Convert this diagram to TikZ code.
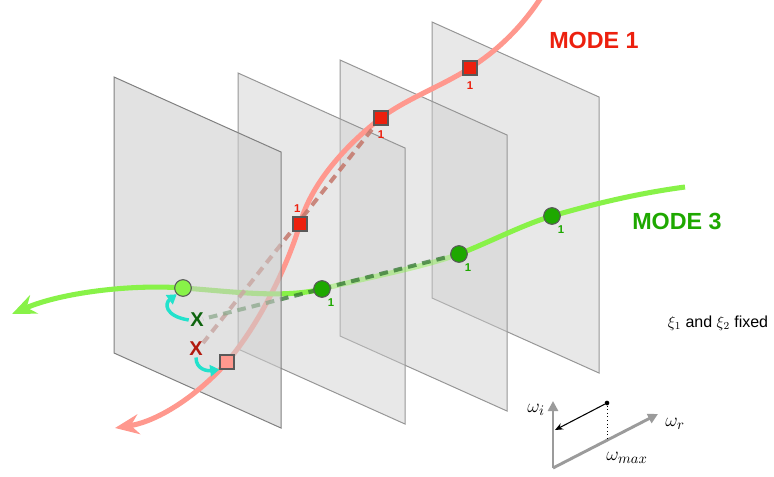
\documentclass[tikz,border=0pt]{standalone}
\usepackage{fontspec}
\setmainfont{Liberation Sans}
\usepackage{amsmath}
\usetikzlibrary{arrows.meta, positioning}

\definecolor{planefill}{RGB}{205,205,205}
\definecolor{planeline}{RGB}{150,150,150}
\definecolor{modered}{RGB}{236,32,14}
\definecolor{salmon}{RGB}{255,152,142}
\definecolor{modegreen}{RGB}{30,168,0}
\definecolor{brightgreen}{RGB}{136,242,72}
\definecolor{xgreen}{RGB}{14,100,14}
\definecolor{xred}{RGB}{178,26,14}
\definecolor{dashred}{RGB}{196,118,106}
\definecolor{dashgreen}{RGB}{40,110,40}
\definecolor{turquoise}{RGB}{34,226,204}
\definecolor{axisgray}{RGB}{155,155,155}

\tikzstyle{plane} = [draw=planeline, line width=0.75pt, fill=planefill, fill opacity=0.45]
\tikzstyle{frontplane} = [plane, draw=gray, fill opacity=0.58]
\tikzstyle{redcurve} = [line width=3.8pt, draw=salmon]
\tikzstyle{greencurve} = [line width=3.8pt, draw=brightgreen]
\tikzstyle{bigarrow} = [-{Stealth[length=18pt, width=15pt, inset=6pt]}]
\tikzstyle{guess} = [line width=3pt, dash pattern=on 6.5pt off 4.5pt]
\tikzstyle{redsq} = [rectangle, minimum size=10.5pt, inner sep=0pt, fill=modered, draw=gray!70!black, line width=0.8pt]
\tikzstyle{greendot} = [circle, minimum size=12.5pt, inner sep=0pt, fill=modegreen, draw=gray!70!black, line width=0.8pt]
\tikzstyle{onelbl} = [font=\fontsize{8.5}{9}\selectfont\bfseries, inner sep=0.5pt]
\tikzstyle{modelbl} = [font=\fontsize{17.5}{20}\selectfont\bfseries]
\tikzstyle{xlbl} = [font=\fontsize{15}{17}\selectfont\bfseries, inner sep=1pt]
\tikzstyle{hint} = [draw=turquoise, line width=2.6pt, -{Triangle[length=7pt, width=8.5pt]}]
\tikzstyle{axis} = [draw=axisgray, line width=2.2pt, -{Triangle[length=7.5pt, width=7.5pt]}]
\tikzstyle{omega} = [font=\fontsize{15}{17}\selectfont, inner sep=0pt]

\begin{document}
\begin{tikzpicture}[x=0.75pt, y=-0.75pt]
\useasboundingbox (0,0) rectangle (774,476);

% Points where the modes cross the planes
\coordinate (r1) at (227,362);
\coordinate (r2) at (300,224);
\coordinate (r3) at (381,118);
\coordinate (r4) at (470,68);
\coordinate (rtop) at (542,-4);
\coordinate (rtip) at (115,428);
\coordinate (g1) at (183,288);
\coordinate (g2) at (322,289);
\coordinate (g3) at (459,254);
\coordinate (g4) at (552,216);
\coordinate (gend) at (685,187);
\coordinate (gtip) at (12,314);
\coordinate (xrend) at (203,343);
\coordinate (xgend) at (203,319);

% Planes, back to front
\draw [plane] (432,22) -- (599,97) -- (599,373) -- (432,298) -- cycle;
\draw [plane] (340,60) -- (507,135) -- (507,411) -- (340,336) -- cycle;
\draw [plane] (238,73) -- (405,148) -- (405,424) -- (238,349) -- cycle;

% Mode 1
\draw [redcurve] (rtop) .. controls (520,30) and (495,52) .. (r4);
\draw [redcurve] (r4) .. controls (440,87) and (406,99) .. (r3);
\draw [redcurve] (r3) .. controls (351,141) and (312,180) .. (r2);
\draw [redcurve] (r2) .. controls (288,264) and (261,322) .. (r1);

% Mode 3
\draw [greencurve] (g4) .. controls (597,203) and (640,193) .. (gend);
\draw [greencurve] (g3) .. controls (490,242) and (522,225) .. (g4);
\draw [greencurve, draw opacity=0.45] (g2) .. controls (370,277) and (424,267) .. (g3);
\draw [greencurve] (g1) .. controls (228,291) and (283,299) .. (g2);

% Extrapolation
\draw [guess, draw=dashred, draw opacity=0.85] (r3) -- (xrend);
\draw [guess, draw=dashgreen, draw opacity=0.7] (g3) -- (xgend);

% Front plane
\draw [frontplane] (114,77) -- (281,152) -- (281,428) -- (114,353) -- cycle;

\draw [redcurve, bigarrow] (r1) .. controls (200,393) and (160,421) .. (rtip);
\draw [greencurve, bigarrow] (g1) .. controls (130,284) and (60,293) .. (gtip);

% Markers
\node (r1box) [redsq, fill=salmon] at (r1) {};
\node (r2box) [redsq] at (r2) {};
\node (r3box) [redsq] at (r3) {};
\node (r4box) [redsq] at (r4) {};
\node (g1dot) [greendot, fill=brightgreen] at (g1) {};
\node (g2dot) [greendot] at (g2) {};
\node (g3dot) [greendot] at (g3) {};
\node (g4dot) [greendot] at (g4) {};

\node (r2num) [onelbl, text=modered, above=2pt of r2box, xshift=-2pt] {1};
\node (r3num) [onelbl, text=modered, below=3pt of r3box] {1};
\node (r4num) [onelbl, text=modered, below=4pt of r4box] {1};
\node (g2num) [onelbl, text=modegreen, below right=2pt and -1pt of g2dot] {1};
\node (g3num) [onelbl, text=modegreen, below right=2pt and -1pt of g3dot] {1};
\node (g4num) [onelbl, text=modegreen, below right=2pt and -1pt of g4dot] {1};

% Mode names
\node (mode1) [modelbl, text=modered] at (594,40) {MODE 1};
\node (mode3) [modelbl, text=modegreen] at (677,221) {MODE 3};

% Predicted points
\node (xg) [xlbl, text=xgreen] at (197,320) {X};
\node (xr) [xlbl, text=xred] at (196,349) {X};
\draw [hint] (xg.west) .. controls (164,316) and (165,303) .. (g1dot.south west);
\draw [hint] (xr.south) .. controls (196,370) and (208,371) .. (r1box.south west);

\node (fixed) [font=\fontsize{12}{14}\selectfont] at (718,323) {$\xi_1$ and $\xi_2$ fixed};

% Complex plane
\coordinate (o) at (553,468);
\coordinate (wi) at (553,401);
\coordinate (wr) at (658,414);
\coordinate (foot) at (607,440);
\coordinate (wtip) at (555,430);
\node (top) [circle, fill=black, inner sep=0pt, minimum size=3.5pt] at (607,403) {};
\draw [axis] (o) -- (wi);
\draw [axis] (o) -- (wr);
\draw [dotted, line width=0.7pt] (top) -- (foot);
\draw [-{Stealth[length=6pt, width=5pt]}, line width=0.8pt] (top) -- (wtip);
\node (wilbl) [omega] at (536,410) {$\omega_i$};
\node (wrlbl) [omega] at (675,424) {$\omega_r$};
\node (wmlbl) [omega] at (627,458) {$\omega_{max}$};

\end{tikzpicture}
\end{document}
